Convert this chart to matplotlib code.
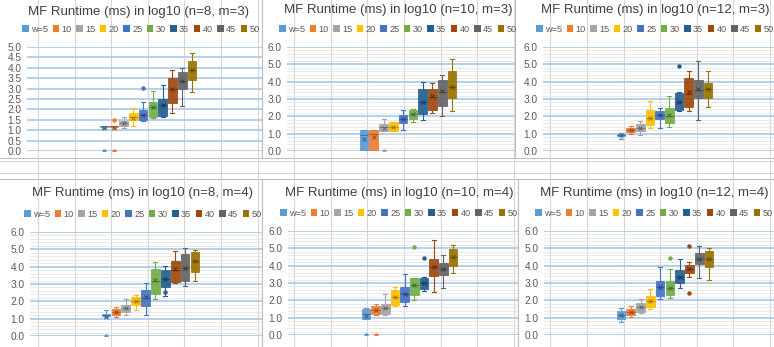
import numpy as np
import matplotlib
matplotlib.use("Agg")
import matplotlib.pyplot as plt
from matplotlib.patches import Patch, Rectangle
from matplotlib.colors import to_rgb

plt.rcParams["font.family"] = ["Liberation Sans", "DejaVu Sans"]

W, H = 774, 347

# ---- data: series and box statistics ----
series = ["w=5", "10", "15", "20", "25", "30", "35", "40", "45", "50"]
colors = ["#5B9BD5", "#ED7D31", "#A5A5A5", "#FFC000", "#4472C4",
          "#70AD47", "#255E91", "#9E480E", "#636363", "#997300"]

# n=8, m=3
n8m3_lo = [1.10, 1.10, 1.10, 1.20, 1.45, 1.60, 1.65, 1.85, 2.15, 2.85]
n8m3_q1 = [1.15, 1.15, 1.20, 1.50, 1.50, 1.65, 1.70, 2.30, 3.00, 3.40]
n8m3_med = [1.18, 1.18, 1.35, 1.65, 1.75, 2.10, 2.20, 3.00, 3.35, 3.90]
n8m3_q3 = [1.20, 1.20, 1.45, 1.85, 1.95, 2.35, 2.50, 3.50, 3.80, 4.35]
n8m3_hi = [1.20, 1.20, 1.65, 2.05, 2.35, 2.90, 3.15, 3.90, 4.00, 4.70]
n8m3_mean = [1.10, 1.10, 1.35, 1.60, 1.75, 2.10, 2.20, 3.00, 3.35, 3.90]
n8m3_out = [[0.0], [0.0, 1.50], [], [], [3.05], [], [], [], [], []]

# n=10, m=3
n10m3_lo = [0.00, 0.00, 1.15, 1.15, 1.20, 1.65, 1.80, 2.20, 2.00, 2.30]
n10m3_q1 = [0.00, 0.00, 1.15, 1.15, 1.60, 1.85, 2.15, 2.35, 2.60, 3.05]
n10m3_med = [0.95, 1.00, 1.40, 1.40, 1.85, 2.15, 2.80, 3.10, 3.40, 3.70]
n10m3_q3 = [1.20, 1.20, 1.55, 1.65, 2.05, 2.35, 3.60, 3.55, 4.10, 4.60]
n10m3_hi = [1.20, 1.20, 1.85, 1.70, 2.35, 2.45, 4.00, 3.95, 4.40, 5.30]
n10m3_mean = [0.70, 0.80, 1.35, 1.40, 1.85, 2.15, 2.85, 3.15, 3.45, 3.70]
n10m3_out = [[], [], [0.0], [], [], [], [], [], [], []]

# n=12, m=3
n12m3_lo = [0.70, 1.00, 0.95, 1.30, 1.35, 1.40, 2.30, 2.30, 1.80, 2.55]
n12m3_q1 = [0.85, 1.10, 1.15, 1.50, 1.85, 1.60, 2.35, 2.55, 3.05, 3.05]
n12m3_med = [0.92, 1.20, 1.35, 1.90, 2.05, 2.00, 2.80, 3.30, 3.50, 3.55]
n12m3_q3 = [1.00, 1.30, 1.55, 2.35, 2.30, 2.50, 3.35, 4.20, 4.10, 3.95]
n12m3_hi = [1.05, 1.45, 1.75, 2.90, 2.50, 3.15, 3.40, 4.60, 5.20, 4.60]
n12m3_mean = [0.90, 1.20, 1.35, 1.90, 2.05, 2.05, 2.85, 3.40, 3.55, 3.55]
n12m3_out = [[], [], [], [], [], [], [4.90], [], [], []]

# n=8, m=4
n8m4_lo = [1.10, 1.10, 1.20, 1.50, 1.20, 2.15, 2.30, 3.05, 2.90, 3.15]
n8m4_q1 = [1.15, 1.20, 1.40, 1.80, 1.75, 2.40, 2.80, 3.10, 3.20, 3.70]
n8m4_med = [1.20, 1.40, 1.60, 2.00, 2.20, 3.20, 3.30, 3.80, 3.90, 4.30]
n8m4_q3 = [1.25, 1.55, 1.80, 2.25, 2.65, 3.85, 3.80, 4.30, 4.75, 4.85]
n8m4_hi = [1.50, 1.70, 2.15, 2.35, 3.05, 4.25, 4.05, 4.90, 5.05, 4.95]
n8m4_mean = [1.10, 1.40, 1.60, 2.00, 2.25, 3.25, 3.30, 3.85, 3.95, 4.30]
n8m4_out = [[0.0], [], [], [], [], [], [2.55], [], [], []]

# n=10, m=4
n10m4_lo = [0.95, 1.15, 1.15, 1.65, 1.70, 2.00, 2.55, 2.50, 2.70, 3.55]
n10m4_q1 = [0.95, 1.20, 1.20, 1.75, 1.90, 2.30, 2.65, 3.40, 3.45, 4.00]
n10m4_med = [1.20, 1.45, 1.55, 2.20, 2.35, 2.90, 3.00, 3.90, 3.80, 4.50]
n10m4_q3 = [1.50, 1.65, 1.80, 2.60, 2.75, 3.30, 3.30, 4.40, 4.15, 4.95]
n10m4_hi = [1.55, 1.80, 2.35, 2.75, 3.50, 3.30, 3.35, 5.50, 4.60, 5.20]
n10m4_mean = [1.10, 1.45, 1.55, 2.20, 2.35, 2.90, 3.00, 3.90, 3.80, 4.50]
n10m4_out = [[0.0], [0.0], [], [], [], [5.05], [4.45], [], [], []]

# n=12, m=4
n12m4_lo = [0.75, 1.05, 1.25, 1.50, 2.05, 2.15, 2.70, 3.35, 3.30, 3.20]
n12m4_q1 = [0.95, 1.15, 1.35, 1.60, 2.25, 2.30, 3.00, 3.55, 4.10, 3.90]
n12m4_med = [1.15, 1.35, 1.60, 1.95, 2.75, 2.70, 3.35, 3.80, 4.40, 4.40]
n12m4_q3 = [1.40, 1.50, 1.85, 2.25, 3.10, 3.10, 3.75, 4.05, 4.75, 4.85]
n12m4_hi = [1.55, 1.70, 2.10, 2.65, 3.90, 3.80, 4.40, 4.20, 5.15, 5.00]
n12m4_mean = [1.15, 1.35, 1.60, 1.95, 2.75, 2.70, 3.35, 3.80, 4.40, 4.40]
n12m4_out = [[], [], [], [], [], [4.45], [], [5.15, 2.40], [], []]


def darker(c, f=0.6):
    r, g, b = to_rgb(c)
    return (r * f, g * f, b * f)


def px_axes(fig, x0, y0, x1, y1, **kw):
    return fig.add_axes([x0 / W, 1 - y1 / H, (x1 - x0) / W, (y1 - y0) / H], **kw)


fig = plt.figure(figsize=(W / 100, H / 100), dpi=100)

# ---- spreadsheet backdrop ----
bg = px_axes(fig, 0, 0, W, H)
bg.set_xlim(0, W)
bg.set_ylim(H, 0)
bg.axis("off")
for xc in np.arange(38, W, 36.6):
    bg.plot([xc, xc], [0, H], color="#D6D6D6", lw=0.8)
for yc in [160.5, 172.5]:
    bg.plot([0, W], [yc, yc], color="#D6D6D6", lw=0.8)

# chart frames (x0, y0, x1, y1) in pixels
frames = [(-2, -2, 262, 158), (262, -2, 515, 158), (515, -2, 776, 158),
          (-2, 179, 262, 349), (262, 179, 518, 349), (518, 179, 776, 349)]
for x0, y0, x1, y1 in frames:
    bg.add_patch(Rectangle((x0, y0), x1 - x0, y1 - y0, facecolor="white",
                           edgecolor="#BFBFBF", lw=0.8))

panels = [
    ("MF Runtime (ms) in log10 (n=8, m=3)",
     n8m3_lo, n8m3_q1, n8m3_med, n8m3_q3, n8m3_hi, n8m3_mean, n8m3_out),
    ("MF Runtime (ms) in log10 (n=10, m=3)",
     n10m3_lo, n10m3_q1, n10m3_med, n10m3_q3, n10m3_hi, n10m3_mean, n10m3_out),
    ("MF Runtime (ms) in log10 (n=12, m=3)",
     n12m3_lo, n12m3_q1, n12m3_med, n12m3_q3, n12m3_hi, n12m3_mean, n12m3_out),
    ("MF Runtime (ms) in log10 (n=8, m=4)",
     n8m4_lo, n8m4_q1, n8m4_med, n8m4_q3, n8m4_hi, n8m4_mean, n8m4_out),
    ("MF Runtime (ms) in log10 (n=10, m=4)",
     n10m4_lo, n10m4_q1, n10m4_med, n10m4_q3, n10m4_hi, n10m4_mean, n10m4_out),
    ("MF Runtime (ms) in log10 (n=12, m=4)",
     n12m4_lo, n12m4_q1, n12m4_med, n12m4_q3, n12m4_hi, n12m4_mean, n12m4_out),
]

# layout per panel: plot left/right, y of top tick / zero, first/last box centre,
# title centre, legend centre
layout = [
    dict(l=27, r=262, top=47, bot=151, b0=104, b1=192, tx=138, ty=12, lx=141, ly=29, ymax=5.0, step=0.5),
    dict(l=287, r=515, top=47, bot=151, b0=364, b1=452, tx=398, ty=10, lx=398, ly=29, ymax=6.0, step=1.0),
    dict(l=543, r=774, top=47, bot=151, b0=621, b1=708, tx=655, ty=10, lx=655, ly=29, ymax=6.0, step=1.0),
    dict(l=30, r=262, top=232, bot=336, b0=106, b1=195, tx=142, ty=193, lx=143, ly=214, ymax=6.0, step=1.0),
    dict(l=288, r=518, top=231, bot=335, b0=366, b1=453, tx=399, ty=193, lx=399, ly=213, ymax=6.0, step=1.0),
    dict(l=544, r=774, top=231, bot=335, b0=621, b1=709, tx=654, ty=193, lx=654, ly=213, ymax=6.0, step=1.0),
]

handles = [Patch(facecolor=c, edgecolor="none") for c in colors]

for (title, lo, q1, med, q3, hi, mean, out), L in zip(panels, layout):
    ax = px_axes(fig, L["l"], L["top"], L["r"], L["bot"])
    ax.patch.set_alpha(0)
    unit = (L["b1"] - L["b0"]) / 9.0
    ax.set_xlim(1 - (L["b0"] - L["l"]) / unit, 10 + (L["r"] - L["b1"]) / unit)
    ax.set_ylim(0, L["ymax"])

    for i, c in enumerate(colors):
        stats = [dict(whislo=lo[i], q1=q1[i], med=med[i], q3=q3[i],
                      whishi=hi[i], mean=mean[i], fliers=out[i])]
        dk = darker(c)
        ax.bxp(stats, positions=[i + 1], widths=0.88, capwidths=0.4,
               patch_artist=True, showmeans=True, manage_ticks=False,
               boxprops=dict(facecolor=c, edgecolor=c, lw=0.6, alpha=0.92),
               medianprops=dict(color=dk, lw=0.5),
               whiskerprops=dict(color=c, lw=0.8),
               capprops=dict(color=c, lw=0.8),
               meanprops=dict(marker="x", markeredgecolor=dk, markersize=3.5,
                              markeredgewidth=0.7),
               flierprops=dict(marker="o", markerfacecolor=c, markeredgecolor=c,
                               markersize=2.2))

    ax.set_yticks(np.arange(0, L["ymax"] + 0.01, L["step"]))
    ax.set_yticklabels([f"{v:.1f}" for v in ax.get_yticks()])
    if L["step"] == 1.0:
        ax.set_yticks(np.arange(0, L["ymax"] + 0.01, 0.2), minor=True)
        ax.grid(True, axis="y", which="minor", color="#E6E6E6", lw=0.6)
    ax.grid(True, axis="y", which="major", color="#A8C8EA", lw=1.2)
    ax.set_axisbelow(True)
    ax.tick_params(axis="y", which="both", length=0, labelsize=7.3,
                   labelcolor="#595959", pad=4)
    ax.set_xticks([])
    for s in ax.spines.values():
        s.set_visible(False)

    fig.text(L["tx"] / W, 1 - L["ty"] / H, title, ha="center", va="center",
             fontsize=9.5, color="#404040")
    ax.legend(handles, series, loc="center", ncol=10, frameon=False,
              bbox_to_anchor=(L["lx"] / W, 1 - L["ly"] / H),
              bbox_transform=fig.transFigure, fontsize=6.6, labelcolor="#595959",
              handlelength=0.7, handleheight=0.7, handletextpad=0.25,
              columnspacing=0.5, borderpad=0)

fig.savefig("out.png", dpi=100)
